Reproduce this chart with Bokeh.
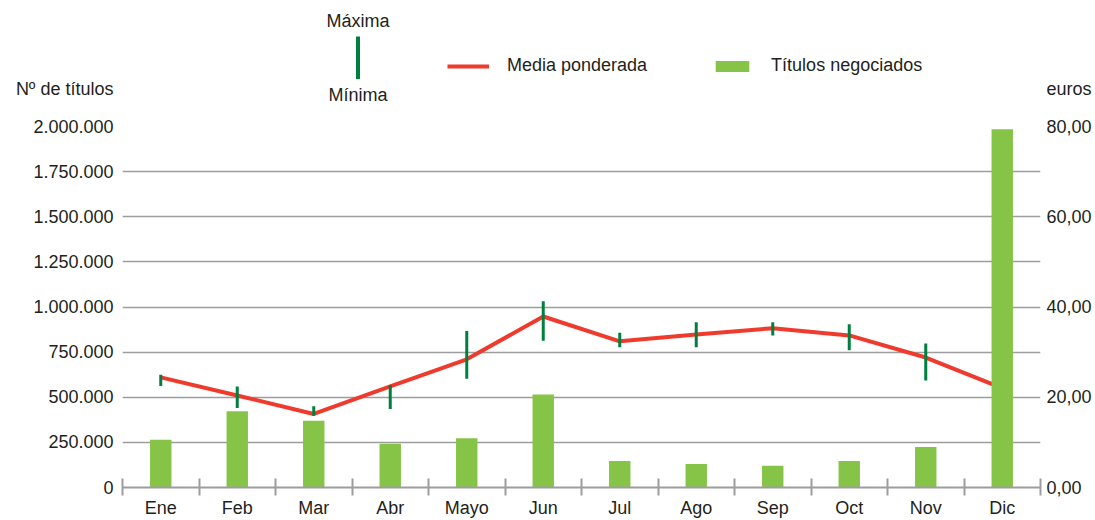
from bokeh.plotting import figure
from bokeh.models import (Range1d, LinearAxis, FixedTicker, Label, BoxAnnotation,
                          Legend, LegendItem, ColumnDataSource)
from bokeh.embed import file_html
from bokeh.resources import INLINE

# ---------------- data ----------------
months = ["Ene", "Feb", "Mar", "Abr", "Mayo", "Jun", "Jul", "Ago", "Sep", "Oct", "Nov", "Dic"]
titulos = [265000, 423000, 370000, 243000, 273000, 515000, 147000, 130000, 121000, 147000, 225000, 1985000]
media = [24.4, 20.4, 16.3, 22.4, 28.4, 37.9, 32.4, 33.9, 35.3, 33.7, 28.8, 22.0]
maxima = [25.0, 22.4, 18.0, 22.7, 34.7, 41.3, 34.3, 36.6, 36.6, 36.2, 31.9, float("nan")]
minima = [22.5, 17.6, 15.9, 17.4, 24.1, 32.5, 31.1, 31.1, 33.7, 30.4, 23.7, float("nan")]

left_ticks = [0, 250000, 500000, 750000, 1000000, 1250000, 1500000, 1750000, 2000000]
left_labels = ["0", "250.000", "500.000", "750.000", "1.000.000", "1.250.000", "1.500.000", "1.750.000", "2.000.000"]
right_ticks = [0, 20, 40, 60, 80]
right_labels = ["0,00", "20,00", "40,00", "60,00", "80,00"]
left_title = "Nº de títulos"
right_title = "euros"

# ---------------- layout / style ----------------
FONT = "Liberation Sans"
FS = "18px"
TXT = "#231f20"
GRID = "#9d9d9d"
RED = "#ee3b2e"
BAR = "#86c447"
DKGREEN = "#00803f"

W, H = 1095, 520
BORDER_L, BORDER_R, BORDER_B = 122, 55, 33
FB = H - BORDER_B            # frame bottom (page px); frame top is page 0
TOP_PX = 126                 # page y of the top tick (2.000.000 / 80,00)
TITLE_PX = 88                # page y of the axis titles
span = FB - TOP_PX

xc = [i + 0.5 for i in range(len(months))]
src = ColumnDataSource(dict(x=xc, titulos=titulos, media=media, maxima=maxima, minima=minima))

p = figure(width=W, height=H, output_backend="svg", toolbar_location=None,
           x_range=Range1d(0, len(months)),
           y_range=Range1d(0, left_ticks[-1] * FB / span),
           min_border_left=BORDER_L, min_border_right=BORDER_R,
           min_border_top=0, min_border_bottom=BORDER_B)
p.extra_y_ranges = {"eur": Range1d(0, right_ticks[-1] * FB / span)}
p.outline_line_color = None
p.background_fill_color = "white"
p.border_fill_color = "white"
p.xgrid.visible = False

yg = p.ygrid[0]
yg.ticker = FixedTicker(ticks=left_ticks[1:-1])
yg.grid_line_color = GRID
yg.grid_line_width = 1.6

# x axis: labels at month centres, tick marks at month boundaries
xa = p.xaxis[0]
xa.ticker = FixedTicker(ticks=xc, minor_ticks=list(range(len(months) + 1)))
xa.major_label_overrides = {x: m for x, m in zip(xc, months)}
xa.major_tick_in = 0
xa.major_tick_out = 0
xa.major_tick_line_color = None
xa.minor_tick_in = 9
xa.minor_tick_out = 8
xa.minor_tick_line_color = GRID
xa.minor_tick_line_width = 2
xa.axis_line_color = GRID
xa.axis_line_width = 2
xa.major_label_standoff = 2
xa.major_label_text_font = FONT
xa.major_label_text_font_size = FS
xa.major_label_text_color = TXT

# left axis (its title sits in line with the tick labels, above the top tick)
left_title_val = left_ticks[-1] * (FB - TITLE_PX) / span
ya = p.yaxis[0]
ya.ticker = FixedTicker(ticks=left_ticks + [left_title_val])
ya.major_label_overrides = {**{t: l for t, l in zip(left_ticks, left_labels)}, left_title_val: left_title}
ya.axis_line_color = None
ya.major_tick_line_color = None
ya.minor_tick_line_color = None
ya.major_tick_in = 0
ya.major_tick_out = 0
ya.major_label_standoff = 9
ya.major_label_text_font = FONT
ya.major_label_text_font_size = FS
ya.major_label_text_color = TXT

# right axis
right_title_val = right_ticks[-1] * (FB - TITLE_PX) / span
ra = LinearAxis(y_range_name="eur", ticker=FixedTicker(ticks=right_ticks + [right_title_val]))
ra.major_label_overrides = {**{t: l for t, l in zip(right_ticks, right_labels)}, right_title_val: right_title}
ra.axis_line_color = None
ra.major_tick_line_color = None
ra.minor_tick_line_color = None
ra.major_tick_in = 0
ra.major_tick_out = 0
ra.major_label_standoff = 6
ra.major_label_text_font = FONT
ra.major_label_text_font_size = FS
ra.major_label_text_color = TXT
p.add_layout(ra, "right")

# marks
line_r = p.line("x", "media", source=src, y_range_name="eur", line_color=RED,
                line_width=4, line_join="round")
p.segment(x0="x", y0="minima", x1="x", y1="maxima", source=src, y_range_name="eur",
          line_color=DKGREEN, line_width=3)
bar_r = p.vbar(x="x", top="titulos", bottom=0, width=0.28, source=src,
               fill_color=BAR, line_color=None)

# legend (Media ponderada / Títulos negociados)
leg = Legend(items=[LegendItem(label="Media ponderada", renderers=[line_r]),
                    LegendItem(label="Títulos negociados", renderers=[bar_r])],
             orientation="horizontal", location=(447 - BORDER_L, FB - 76),
             glyph_width=42, glyph_height=14, label_standoff=18, spacing=64,
             padding=0, margin=0, border_line_color=None, background_fill_alpha=0,
             label_text_font=FONT, label_text_font_size=FS, label_text_color=TXT)
p.add_layout(leg)

# Máxima / Mínima key
def lab(text, px, py, align="left"):
    p.add_layout(Label(x=px - BORDER_L, y=FB - py, x_units="screen", y_units="screen", text=text,
                       text_font=FONT, text_font_size=FS, text_color=TXT,
                       text_align=align, text_baseline="middle"))

lab("Máxima", 357.5, 20, "center")
lab("Mínima", 357.5, 94, "center")
p.add_layout(BoxAnnotation(left=355.5 - BORDER_L, right=359.5 - BORDER_L,
                           bottom=FB - 78.5, top=FB - 36,
                           left_units="screen", right_units="screen",
                           bottom_units="screen", top_units="screen",
                           fill_color=DKGREEN, fill_alpha=1, line_alpha=0))

open("out.html", "w").write(file_html(p, INLINE))
